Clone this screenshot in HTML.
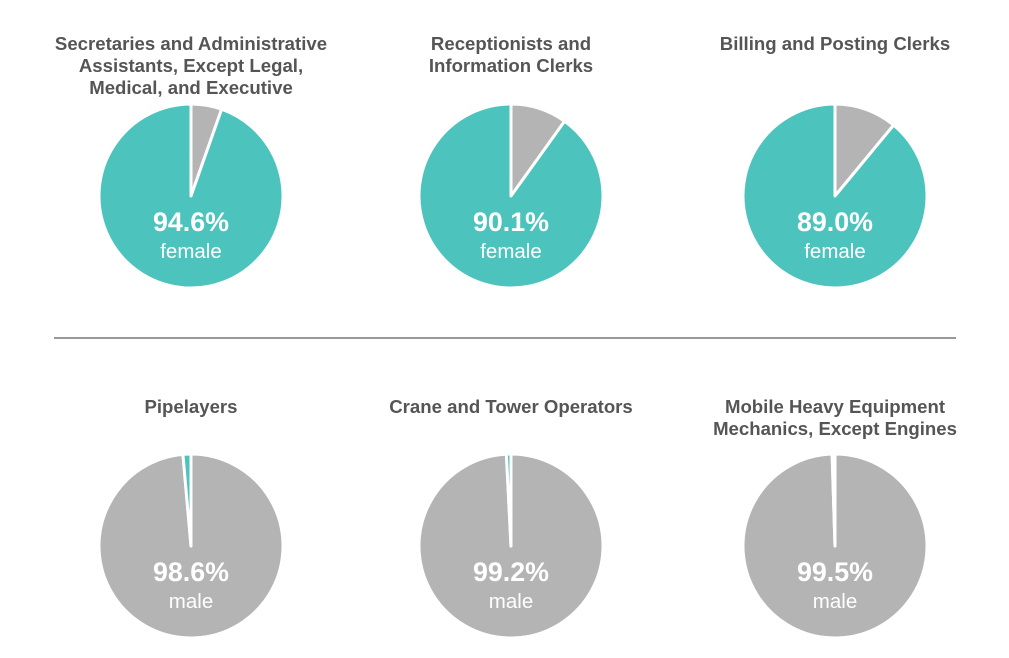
<!DOCTYPE html>
<html><head><meta charset="utf-8"><style>
html,body{margin:0;padding:0;background:#fff;}
svg{display:block;font-family:"Liberation Sans",Arial,sans-serif;}
</style></head><body>
<svg id="chart" width="1009" height="658" viewBox="0 0 1009 658">
<line x1="54" y1="338" x2="956" y2="338" stroke="#999" stroke-width="2"/>
</svg>
<script>
const titles=[
 ["Secretaries and Administrative","Assistants, Except Legal,","Medical, and Executive"],
 ["Receptionists and","Information Clerks"],
 ["Billing and Posting Clerks"],
 ["Pipelayers"],
 ["Crane and Tower Operators"],
 ["Mobile Heavy Equipment","Mechanics, Except Engines"]
];
const shares=[94.6,90.1,89.0,98.6,99.2,99.5];
const genders=["female","female","female","male","male","male"];
const TEAL="#4cc3bc",GREY="#b3b4b3";
const svg=document.getElementById('chart');
const NS="http://www.w3.org/2000/svg";
const colX=[191,511,835],rowY=[196,546],titleY=[50,413],R=92;
function pt(cx,cy,deg){const a=deg*Math.PI/180;return [cx+R*Math.sin(a),cy-R*Math.cos(a)];}
function arc(cx,cy,a0,a1,col,name){
 const p=document.createElementNS(NS,'path');
 const s=pt(cx,cy,a0),e=pt(cx,cy,a1),large=(a1-a0)>180?1:0;
 p.setAttribute('d',`M${cx},${cy}L${s[0]},${s[1]}A${R},${R} 0 ${large} 1 ${e[0]},${e[1]}Z`);
 p.setAttribute('fill',col);p.setAttribute('stroke','#fff');p.setAttribute('stroke-width','3');p.setAttribute('stroke-linejoin','round');
 
 
 svg.appendChild(p);
}
function txt(x,y,s,size,weight,fill,name){
 const t=document.createElementNS(NS,'text');
 t.setAttribute('x',x);t.setAttribute('y',y);t.setAttribute('text-anchor','middle');
 t.setAttribute('font-size',size);t.setAttribute('font-weight',weight);t.setAttribute('fill',fill);
 t.textContent=s;
 
 
 svg.appendChild(t);
}
shares.forEach((v,i)=>{
 const cx=colX[i%3],row=Math.floor(i/3),cy=rowY[row];
 const other=(100-v)*3.6;
 if(genders[i]==="female"){
  arc(cx,cy,0,other,GREY,'pie-male-slice-'+i);
  arc(cx,cy,other,360,TEAL,'pie-female-slice-'+i);
 }else{
  arc(cx,cy,0,360-other,GREY,'pie-male-slice-'+i);
  arc(cx,cy,360-other,360,TEAL,'pie-female-slice-'+i);
 }
 titles[i].forEach((l,j)=>txt(cx,titleY[row]+j*22,l,18.6,'bold','#555','pie-title-'+i));
 txt(cx,cy+35,v.toFixed(1)+"%",26.8,'bold','#fff','pie-percent-label-'+i);
 txt(cx,cy+62,genders[i],20.5,'normal','#fff','pie-gender-label-'+i);
});
</script>
</body></html>
